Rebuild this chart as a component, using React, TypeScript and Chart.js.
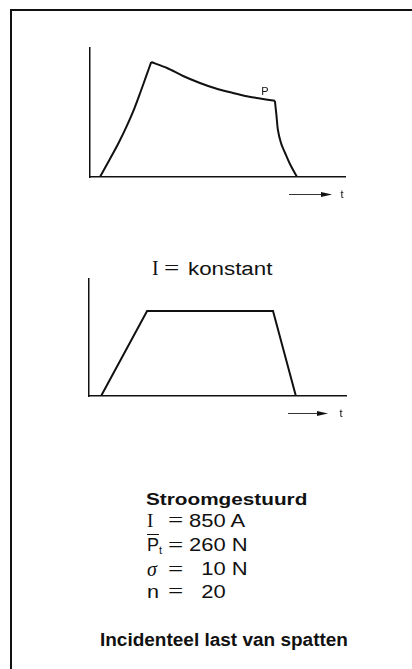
import React, { useEffect, useRef } from "react";
import { Chart, registerables } from "chart.js";

Chart.register(...registerables);

// Electrode force over time (upper diagram), time and force on a 0..100 scale
const riseX = [3.9, 7.6, 11.2, 14.4, 17.3, 19.8, 22.2, 24];
const riseY = [0, 13.2, 26.4, 39.5, 52.7, 65.9, 79.1, 89.1];
const decayX = [24, 30.2, 36.5, 43.1, 49.4, 56.1, 60.8, 65.5, 72.5];
const decayY = [89.1, 84.5, 78.3, 72.9, 68.6, 65.1, 62.8, 61.2, 59.1];
const dropX = [72.5, 73.1, 73.7, 74.9, 76.5, 78.4, 81.2];
const dropY = [59.1, 48.1, 36.4, 26.4, 18.6, 10.1, 0];

// Welding current over time (lower diagram)
const currentX = [4.7, 22.6, 71.6, 80.5];
const currentY = [0, 72.6, 72.6, 0];

// Point marked on the force curve
const markLabel = "P";
const markX = 68.6;
const markY = 66;

const timeLabel = "t";

// Weld parameters listed under the diagrams
const paramNumbers = ["850", "260", "10", "20"];
const paramUnits = ["A", "N", "N", ""];

const INK = "#111";

type XY = { x: number; y: number };
const pairs = (xs: number[], ys: number[]): XY[] => xs.map((x, i) => ({ x, y: ys[i] }));

// Draws the "----> t" time arrow under the x axis and an optional point label
const timeArrow = {
  id: "timeArrow",
  afterDraw(chart: any, _args: any, opts: any) {
    const { ctx, chartArea, scales } = chart;
    ctx.save();
    const y = chartArea.bottom + opts.gap;
    const x0 = chartArea.right - opts.start;
    const x1 = chartArea.right - opts.end;
    ctx.strokeStyle = "#333";
    ctx.lineWidth = 1;
    ctx.beginPath();
    ctx.moveTo(x0, y + 0.5);
    ctx.lineTo(x1 - 8, y + 0.5);
    ctx.stroke();
    ctx.fillStyle = INK;
    ctx.beginPath();
    ctx.moveTo(x1 - 11, y - 2);
    ctx.lineTo(x1, y + 0.5);
    ctx.lineTo(x1 - 11, y + 3);
    ctx.closePath();
    ctx.fill();
    ctx.font = "11px 'Liberation Sans', Arial, sans-serif";
    ctx.textAlign = "center";
    ctx.textBaseline = "middle";
    ctx.fillText(timeLabel, chartArea.right - opts.labelOffset, y + 0.5);
    if (opts.mark) {
      ctx.font = "11px 'Liberation Sans', Arial, sans-serif";
      ctx.fillText(
        opts.mark.text,
        scales.x.getPixelForValue(opts.mark.x),
        scales.y.getPixelForValue(opts.mark.y)
      );
    }
    ctx.restore();
  },
};

function axisOptions() {
  return {
    type: "linear" as const,
    min: 0,
    max: 100,
    grid: { display: false, drawTicks: false },
    ticks: { display: false },
    border: { display: true, color: INK, width: 1.5 },
  };
}

function Diagram(props: {
  left: number;
  top: number;
  width: number;
  height: number;
  padding: { left: number; top: number; right: number; bottom: number };
  series: XY[][];
  tension: number;
  arrow: any;
}) {
  const ref = useRef<HTMLCanvasElement | null>(null);
  useEffect(() => {
    if (!ref.current) return;
    const chart = new Chart(ref.current, {
      type: "line",
      data: {
        datasets: props.series.map((data) => ({
          data,
          borderColor: INK,
          borderWidth: 2,
          pointRadius: 0,
          fill: false,
          tension: props.tension,
        })),
      },
      options: {
        animation: false,
        responsive: false,
        maintainAspectRatio: false,
        events: [],
        layout: { padding: props.padding },
        plugins: {
          legend: { display: false },
          tooltip: { enabled: false },
          timeArrow: props.arrow,
        } as any,
        scales: { x: axisOptions(), y: axisOptions() },
      },
      plugins: [timeArrow],
    });
    return () => chart.destroy();
  }, []);
  return (
    <canvas
      ref={ref}
      width={props.width}
      height={props.height}
      style={{
        position: "absolute",
        left: props.left,
        top: props.top,
        width: props.width,
        height: props.height,
      }}
    />
  );
}

const SANS = "'Liberation Sans', Arial, Helvetica, sans-serif";
const SERIF = "'Liberation Serif', 'Times New Roman', serif";

function Txt(props: {
  x: number;
  base: number;
  size: number;
  family?: string;
  weight?: number;
  italic?: boolean;
  sx?: number;
  children: React.ReactNode;
}) {
  const { x, base, size, family = SANS, weight = 400, italic = false, sx = 1 } = props;
  return (
    <div
      style={{
        position: "absolute",
        left: x,
        top: base - 0.85 * size,
        fontSize: size,
        lineHeight: `${size}px`,
        fontFamily: family,
        fontWeight: weight,
        fontStyle: italic ? "italic" : "normal",
        whiteSpace: "nowrap",
        color: INK,
        transform: `scaleX(${sx})`,
        transformOrigin: "0 0",
      }}
    >
      {props.children}
    </div>
  );
}

function Eq(props: { x: number; base: number }) {
  return (
    <Txt x={props.x} base={props.base} size={20} family={SERIF} sx={1.35}>
      =
    </Txt>
  );
}

function Value(props: { base: number; num: string; unit: string }) {
  return (
    <Txt x={189} base={props.base} size={18} sx={1.22}>
      <span style={{ display: "inline-block", width: "1.668em", textAlign: "right" }}>{props.num}</span>
      {props.unit ? " " + props.unit : ""}
    </Txt>
  );
}

export default function App() {
  const bases = [527, 551.5, 575.5, 598];
  return (
    <div
      style={{
        position: "fixed",
        left: 0,
        top: 0,
        width: 412,
        height: 669,
        background: "#fff",
        overflow: "hidden",
      }}
    >
      <div
        style={{
          position: "absolute",
          left: 10,
          top: 9,
          width: 420,
          height: 680,
          borderTop: `2px solid ${INK}`,
          borderLeft: `2px solid ${INK}`,
        }}
      />

      <Diagram
        left={70}
        top={30}
        width={300}
        height={180}
        padding={{ left: 20, top: 18, right: 25, bottom: 33 }}
        series={[pairs(riseX, riseY), pairs(decayX, decayY), pairs(dropX, dropY)]}
        tension={0.3}
        arrow={{ gap: 17, start: 56, end: 13, labelOffset: 3, mark: { text: markLabel, x: markX, y: markY } }}
      />

      <Txt x={152} base={275} size={20} family={SERIF}>I</Txt>
      <Eq x={164} base={275} />
      <Txt x={188} base={275} size={18} sx={1.24}>konstant</Txt>

      <Diagram
        left={69}
        top={261}
        width={300}
        height={180}
        padding={{ left: 20, top: 18, right: 23, bottom: 45 }}
        series={[pairs(currentX, currentY)]}
        tension={0}
        arrow={{ gap: 17, start: 58, end: 18, labelOffset: 5 }}
      />

      <Txt x={146} base={505} size={17} weight={700} sx={1.22}>Stroomgestuurd</Txt>

      <Txt x={147} base={bases[0]} size={19} family={SERIF}>I</Txt>
      <Txt x={147} base={bases[1]} size={18}>
        <span style={{ textDecoration: "overline" }}>P</span>
        <span style={{ fontSize: 11, position: "relative", top: 3 }}>t</span>
      </Txt>
      <Txt x={147} base={bases[2]} size={20} family={SERIF} italic>σ</Txt>
      <Txt x={147} base={bases[3]} size={18} sx={1.2}>n</Txt>

      {bases.map((b, i) => (
        <Eq key={"eq" + i} x={168} base={b} />
      ))}
      {bases.map((b, i) => (
        <Value key={"v" + i} base={b} num={paramNumbers[i]} unit={paramUnits[i]} />
      ))}

      <Txt x={100} base={647} size={17.5} weight={700} sx={1.085}>Incidenteel last van spatten</Txt>
    </div>
  );
}
